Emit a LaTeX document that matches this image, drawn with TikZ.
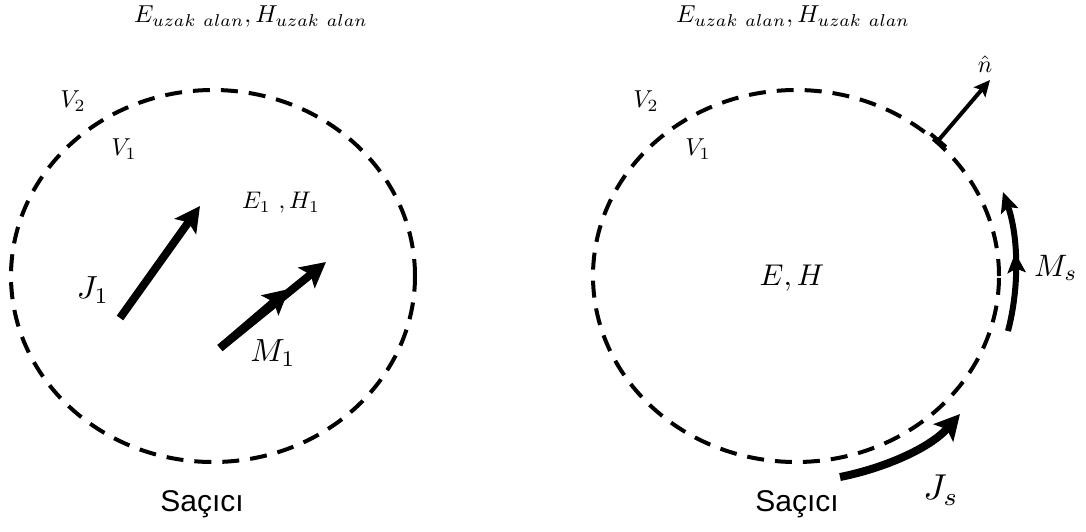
\documentclass[tikz,border=0pt]{standalone}
\usepackage{graphicx}
\usepackage{fontspec}
\newfontfamily\arialf{Liberation Sans}
\usetikzlibrary{arrows.meta,decorations.markings}
\newcommand{\fsz}[1]{\fontsize{#1}{#1}\selectfont}
\newcommand{\mt}[2]{\scalebox{#1}{$#2$}}
\begin{document}
\begin{tikzpicture}[x=1pt,y=-1pt,
  bound/.style={line width=4pt,dash pattern=on 17pt off 11pt},
  bigtip/.style={-{Stealth[length=25pt,width=26pt,inset=5pt]}},
  thickarrow/.style={line width=8pt,bigtip},
  lbl/.style={inner sep=0pt,anchor=center}]
\useasboundingbox (0,0) rectangle (1086,531);
% boundaries
\coordinate (cL) at (213,276);
\coordinate (cR) at (796,276);
\draw[bound] (cL) ellipse [x radius=202pt, y radius=186pt];
\draw[bound] (cR) ellipse [x radius=203pt, y radius=186pt];
% top labels
\node[lbl] (farL) at (251,17) {\mt{2.45}{E_{uzak\ alan},H_{uzak\ alan}}};
\node[lbl] (farR) at (793,17) {\mt{2.45}{E_{uzak\ alan},H_{uzak\ alan}}};
% left picture
\node[lbl] (v2L) at (73,101) {\mt{2.45}{V_2}};
\node[lbl] (v1L) at (124,149) {\mt{2.45}{V_1}};
\node[lbl] (ehL) at (281,203) {\mt{2.4}{E_1\ ,H_1}};
\node[lbl] (j1) at (93,290) {\mt{3.2}{J_1}};
\node[lbl] (m1) at (273,353) {\mt{3.2}{M_1}};
\coordinate (j1s) at (120,318);
\coordinate (j1e) at (200,206);
\draw[thickarrow] (j1s) -- (j1e);
\coordinate (m1s) at (220,348);
\coordinate (m1m) at (289,289);
\coordinate (m1e) at (326,262);
\draw[thickarrow] (m1s) -- (m1e);
\draw[thickarrow] (m1s) -- (m1m);
\node[lbl,font=\arialf\fsz{30}] (sL) at (202,504) {Saçıcı};
% right picture
\node[lbl] (v2R) at (646,101) {\mt{2.45}{V_2}};
\node[lbl] (v1R) at (698,149) {\mt{2.45}{V_1}};
\node[lbl] (eh) at (792,278) {\mt{3.0}{E,H}};
\coordinate (ns) at (937,142);
\coordinate (ne) at (990,80);
\draw[line width=4pt,{Bar[width=20pt,line width=4pt]}-{Stealth[length=16pt,width=15pt,inset=3pt]}] (ns) -- (ne);
\node[lbl] (nh) at (985,64) {\mt{2.4}{\hat{n}}};
\coordinate (mss) at (1008,331);
\coordinate (mse) at (1003,192);
\draw[line width=6pt,-{Stealth[length=20pt,width=18pt,inset=4pt]},
  postaction={decorate},
  decoration={markings,mark=at position 0.56 with {\arrow{Stealth[length=20pt,width=18pt,inset=4pt]}}}]
  (mss) .. controls (1020,285) and (1018,235) .. (mse);
\node[lbl,anchor=west] (ms) at (1034,268) {\mt{3.1}{M_s}};
\coordinate (jss) at (840,477);
\coordinate (jse) at (960,414);
\draw[line width=8pt,bigtip] (jss) .. controls (885,468) and (930,448) .. (jse);
\node[lbl] (js) at (941,490) {\mt{3.6}{J_s}};
\node[lbl,font=\arialf\fsz{30}] (sR) at (797,504) {Saçıcı};
\end{tikzpicture}
\end{document}
